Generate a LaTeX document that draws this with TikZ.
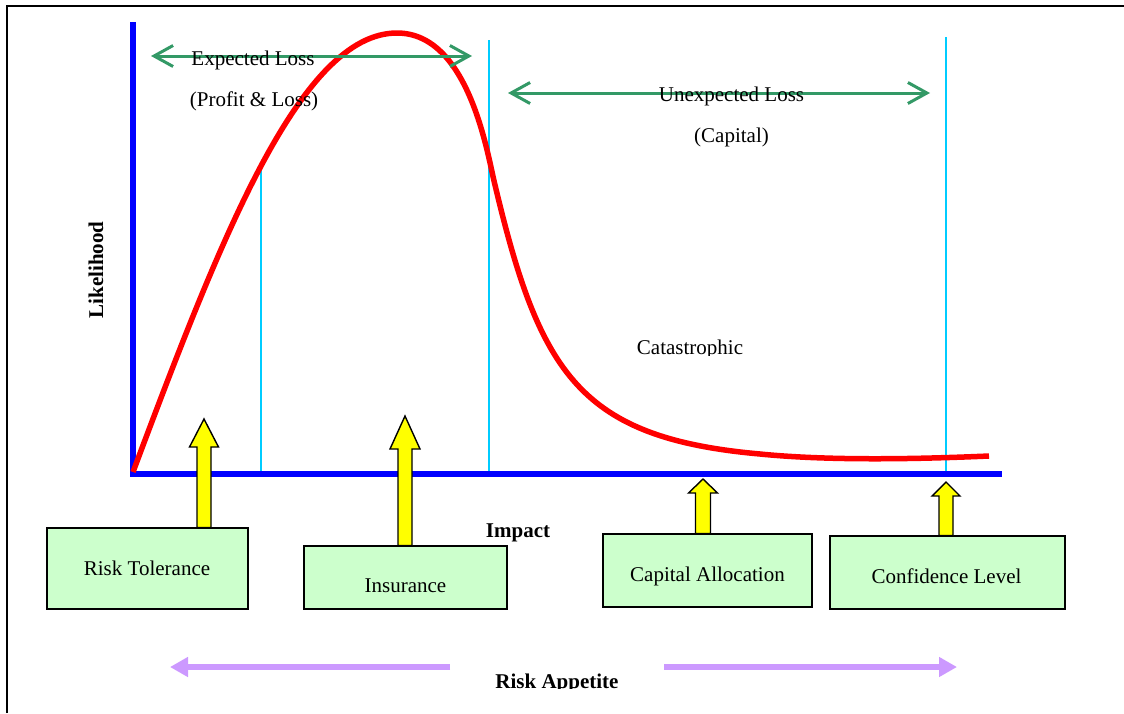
\documentclass[tikz,border=0pt]{standalone}
\usepackage{fontspec}
\setmainfont{Liberation Serif}
\usetikzlibrary{arrows.meta}
\definecolor{axisblue}{RGB}{0,0,255}
\definecolor{curvered}{RGB}{255,0,0}
\definecolor{guidecyan}{RGB}{0,204,255}
\definecolor{spangreen}{RGB}{51,153,102}
\definecolor{boxgreen}{RGB}{204,255,204}
\definecolor{arrowyellow}{RGB}{255,255,0}
\definecolor{appetite}{RGB}{204,153,255}
\newcommand{\blockarr}[6]{%
  \draw[yarr] (#1-#6,#4) -- (#1-#6,#3) -- (#1-#5,#3) -- (#1,#2) -- (#1+#5,#3) -- (#1+#6,#3) -- (#1+#6,#4) -- cycle;}
\tikzset{
  every node/.style={font=\fontsize{21}{25}\selectfont, inner sep=0pt},
  lbl/.style={anchor=base},
  blbl/.style={anchor=base, font=\fontsize{21}{25}\selectfont\bfseries},
  axisline/.style={draw=axisblue, line width=6pt},
  guide/.style={draw=guidecyan, line width=1.7pt},
  span/.style={draw=spangreen, line width=3pt, {Straight Barb[length=19pt,width=21pt]}-{Straight Barb[length=19pt,width=21pt]}},
  riskbox/.style={draw=black, line width=1.8pt, fill=boxgreen, rectangle},
  yarr/.style={draw=black, line width=1.4pt, fill=arrowyellow, line join=miter},
  appetitearrow/.style={draw=appetite, line width=6pt, -{Triangle[length=18pt,width=19pt]}},
  losscurve/.style={draw=curvered, line width=5.5pt},
}
\begin{document}
\begin{tikzpicture}[x=1pt, y=-1pt]
\useasboundingbox (0,0) rectangle (1124,713);
% frame
\draw[line width=2pt] (7,713) -- (7,6) -- (1124,6);

% guide lines
\coordinate (g1t) at (261,167);  \coordinate (g1b) at (261,474);
\coordinate (g2t) at (489,40);   \coordinate (g2b) at (489,474);
\coordinate (g3t) at (946,37);   \coordinate (g3b) at (946,474);
\draw[guide] (g1t) -- (g1b);
\draw[guide] (g2t) -- (g2b);
\draw[guide] (g3t) -- (g3b);

% axes
\coordinate (ytop) at (133,22);
\coordinate (origin) at (133,473.5);
\coordinate (xend) at (1002,473.5);
\draw[axisline] (ytop) -- (133,476);
\draw[axisline] (130,473.5) -- (xend);

% curve
\coordinate (c0) at (133,472);
\coordinate (cpeak) at (397,33);
\coordinate (cinf) at (495,185);
\coordinate (ctail) at (760,454);
\coordinate (cend) at (989,456);
\draw[losscurve] (c0) .. controls (220,240) and (300,33) .. (cpeak)
  .. controls (470,33) and (488,158) .. (cinf)
  .. controls (540,374) and (580,438) .. (ctail)
  .. controls (830,461) and (920,459) .. (cend);

% span arrows
\coordinate (el1) at (151,56); \coordinate (el2) at (472,56);
\coordinate (ul1) at (508,93); \coordinate (ul2) at (930,93);
\draw[span] (el1) -- (el2);
\draw[span] (ul1) -- (ul2);

% texts
\node[lbl] (tel) at (253,65) {Expected Loss};
\node[lbl] (tpl) at (254,106) {(Profit \& Loss)};
\node[lbl] (tul) at (731.5,101) {Unexpected Loss};
\node[lbl] (tcap) at (731.5,142) {(Capital)};
\begin{scope}
\clip (560,330) rectangle (820,355.5);
\node[lbl] (tcat) at (690,354) {Catastrophic};
\end{scope}
\node[blbl, rotate=90] (tlik) at (103,270) {Likelihood};
\node[blbl] (timp) at (518,537.5) {Impact};

% boxes
\node[riskbox, minimum width=201pt, minimum height=81pt] (rt) at (147.5,568.5) {};
\node[riskbox, minimum width=203pt, minimum height=63pt] (ins) at (405.5,577.5) {};
\node[riskbox, minimum width=209pt, minimum height=73pt] (ca) at (707.5,570.5) {};
\node[riskbox, minimum width=235pt, minimum height=73pt] (cl) at (947.5,572.5) {};
\node[lbl] (trt) at (147,575) {Risk Tolerance};
\node[lbl] (tins) at (405.5,592) {Insurance};
\node[lbl] (tca) at (707.5,581) {Capital Allocation};
\node[lbl] (tcl) at (946.5,583) {Confidence Level};

% block arrows: x, tip y, head base y, bottom y, head half width, shaft half width
\blockarr{204}{419}{447}{527.5}{14.5}{7}
\blockarr{405}{416}{449}{545.5}{15}{7}
\blockarr{703}{479}{493}{533.5}{14.5}{7.5}
\blockarr{946}{482}{496}{535.5}{14}{7}

% risk appetite
\coordinate (ra1) at (450,667); \coordinate (ra1e) at (170,667);
\coordinate (ra2) at (664,667); \coordinate (ra2e) at (957,667);
\draw[appetitearrow] (ra1) -- (ra1e);
\draw[appetitearrow] (ra2) -- (ra2e);
\begin{scope}
\clip (450,660) rectangle (660,688.5);
\node[blbl] (tra) at (557,688) {Risk Appetite};
\end{scope}
\end{tikzpicture}
\end{document}
